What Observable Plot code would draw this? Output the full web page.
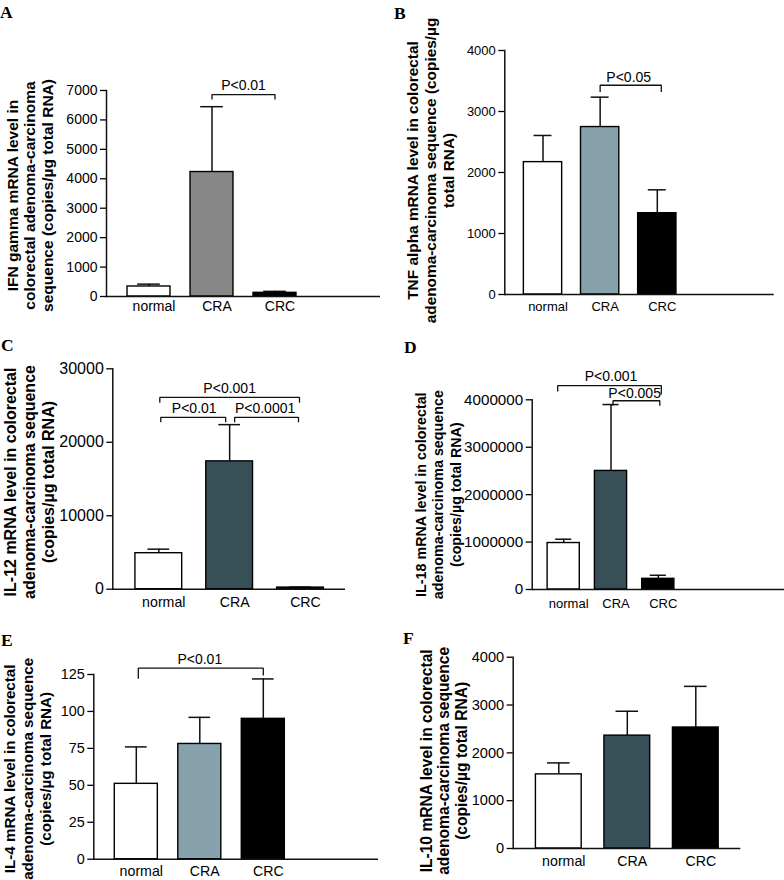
<!DOCTYPE html>
<html>
<head>
<meta charset="utf-8">
<script src="https://cdn.jsdelivr.net/npm/d3@7"></script>
<script src="https://cdn.jsdelivr.net/npm/@observablehq/plot@0.6"></script>
<style>
html,body{margin:0;padding:0;background:#fff;}
#fig{position:relative;width:784px;height:880px;background:#fff;overflow:hidden;}
.panel{position:absolute;}
.letter{position:absolute;font-family:"Liberation Serif","Times New Roman",serif;font-weight:bold;font-size:17.5px;line-height:1;color:#000;}
</style>
</head>
<body>
<div id="fig"></div>
<script>
// ---------- data ----------
const categories = ["normal", "CRA", "CRC"];

// A: IFN gamma
const ifnMean = [340, 4230, 125];
const ifnUpper = [420, 6450, 175];
const ifnTicks = [0, 1000, 2000, 3000, 4000, 5000, 6000, 7000];
const ifnBrackets = [["CRA", "CRC", 6860, "P<0.01"]];
const ifnLabel = "IFN gamma mRNA level in\ncolorectal adenoma-carcinoma\nsequence (copies/µg total RNA)";

// B: TNF alpha
const tnfMean = [2170, 2745, 1333];
const tnfUpper = [2607, 3235, 1716];
const tnfTicks = [0, 1000, 2000, 3000, 4000];
const tnfBrackets = [["CRA", "CRC", 3430, "P<0.05"]];
const tnfLabel = "TNF alpha mRNA level in colorectal\nadenoma-carcinoma sequence (copies/µg\ntotal RNA)";

// C: IL-12
const il12Mean = [4900, 17400, 220];
const il12Upper = [5450, 22400, 280];
const il12Ticks = [0, 10000, 20000, 30000];
const il12Brackets = [
  ["normal", "CRC", 26100, "P<0.001"],
  ["normal", "CRA", 23400, "P<0.01"],
  ["CRA", "CRC", 23400, "P<0.0001"]
];
const il12Label = "IL-12 mRNA level in colorectal\nadenoma-carcinoma sequence\n(copies/µg total RNA)";

// D: IL-18
const il18Mean = [980000, 2500000, 225000];
const il18Upper = [1060000, 3900000, 300000];
const il18Ticks = [0, 1000000, 2000000, 3000000, 4000000];
const il18Brackets = [
  ["normal", "CRC", 4300000, "P<0.001"],
  ["CRA", "CRC", 3980000, "P<0.005"]
];
const il18Label = "IL-18 mRNA level in colorectal\nadenoma-carcinoma sequence\n(copies/µg total RNA)";

// E: IL-4
const il4Mean = [51, 78, 95];
const il4Upper = [76, 96, 122];
const il4Ticks = [0, 25, 50, 75, 100, 125];
const il4Brackets = [["normal", "CRC", 129.3, "P<0.01"]];
const il4Label = "IL-4 mRNA level in colorectal\nadenoma-carcinoma sequence\n(copies/µg total RNA)";

// F: IL-10
const il10Mean = [1550, 2360, 2530];
const il10Upper = [1790, 2870, 3390];
const il10Ticks = [0, 1000, 2000, 3000, 4000];
const il10Brackets = [];
const il10Label = "IL-10 mRNA level in colorectal\nadenoma-carcinoma sequence\n(copies/µg total RNA)";

// ---------- styles / layout ----------
const GRAY = "#878787", STEEL = "#87a2ac", SLATE = "#374f57";
const specs = [
  {letter: "A", pos: [0, 0, 392, 320], margin: [90, 12, 24, 106], xRange: [148.5, 274.5], hw: 0.341, cap: 0.18,
   mean: ifnMean, upper: ifnUpper, ticks: ifnTicks, brackets: ifnBrackets, label: ifnLabel, cra: GRAY,
   yFont: 14, xFont: 14, xPad: 4.8, labelFont: 15.5, labelLH: 1.13, labelDx: -76.7, labelDy: 2,
   bStyle: [{dl: 5, dr: 5, il: 0, ir: 0, gap: 4.7}], letterAt: [0, 3.6]},
  {letter: "B", pos: [392, 0, 392, 320], margin: [50, 10.3, 26, 112.3], xRange: [150.5, 264.8], hw: 0.335, cap: 0.157,
   mean: tnfMean, upper: tnfUpper, ticks: tnfTicks, brackets: tnfBrackets, label: tnfLabel, cra: STEEL,
   yFont: 13, xFont: 13, xPad: 6.8, labelFont: 15.4, labelLH: 1.17, labelDx: -74.3, labelDy: -2,
   bStyle: [{dl: 6.7, dr: 6.7, il: 0, ir: -4, gap: 3.3}], letterAt: [394, 5]},
  {letter: "C", pos: [0, 320, 392, 290], margin: [48.3, 47, 21.3, 112.3], xRange: [158.3, 300], hw: 0.33, cap: 0.153,
   mean: il12Mean, upper: il12Upper, ticks: il12Ticks, brackets: il12Brackets, label: il12Label, cra: SLATE,
   yFont: 16, xFont: 14.2, xPad: 7.9, labelFont: 16, labelLH: 1.17, labelDx: -83.8, labelDy: 3,
   bStyle: [{dl: 5.4, dr: 5.4, il: 1, ir: 1, gap: 4.6}, {dl: 5, dr: 5, il: 2, ir: 4, gap: 4.3}, {dl: 5, dr: 5, il: 5, ir: 2, gap: 4.3}],
   letterAt: [1, 337]},
  {letter: "D", pos: [392, 320, 392, 290], margin: [79.3, 0, 21, 139.7], xRange: [171.2, 265.8], hw: 0.34, cap: 0.17,
   mean: il18Mean, upper: il18Upper, ticks: il18Ticks, brackets: il18Brackets, label: il18Label, cra: SLATE,
   yFont: 15.2, xFont: 13, xPad: 8.8, labelFont: 14.3, labelLH: 1.22, labelDx: -94.7, labelDy: 0,
   bStyle: [{dl: 6, dr: 9, il: -6, ir: -3, gap: 4.3}, {dl: 5, dr: 5, il: 2, ir: -1.5, gap: 2.5}],
   letterAt: [404, 338.6]},
  {letter: "E", pos: [0, 610, 392, 270], margin: [64, 14, 21.3, 93.3], xRange: [135.8, 262.8], hw: 0.339, cap: 0.171,
   mean: il4Mean, upper: il4Upper, ticks: il4Ticks, brackets: il4Brackets, label: il4Label, cra: STEEL,
   yFont: 14.4, xFont: 14.2, xPad: 6.3, labelFont: 15.2, labelLH: 1.2, labelDx: -66.6, labelDy: 2,
   bStyle: [{dl: 10.5, dr: 7.3, il: 2, ir: 0, gap: 4.4}], letterAt: [1, 632]},
  {letter: "F", pos: [392, 610, 392, 270], margin: [46.7, 43.7, 32, 120.7], xRange: [166.3, 303.3], hw: 0.334, cap: 0.165,
   mean: il10Mean, upper: il10Upper, ticks: il10Ticks, brackets: il10Brackets, label: il10Label, cra: SLATE,
   yFont: 14.6, xFont: 14.2, xPad: 7, labelFont: 15.6, labelLH: 1.12, labelDx: -69.7, labelDy: 8,
   bStyle: [], letterAt: [403, 630]}
];

function bracketCurve(dropL, dropR, insetL, insetR) {
  return function (context) {
    let pts = [];
    return {
      areaStart() {}, areaEnd() {},
      lineStart() { pts = []; },
      point(x, y) { pts.push([+x, +y]); },
      lineEnd() {
        if (pts.length < 2) return;
        const [x0, y0] = pts[0], [x1, y1] = pts[pts.length - 1];
        const a = x0 + insetL, b = x1 - insetR;
        context.moveTo(a, y0 + dropL);
        context.lineTo(a, y0);
        context.lineTo(b, y1);
        context.lineTo(b, y1 + dropR);
      }
    };
  };
}

const idx = (c) => categories.indexOf(c);
const fig = document.getElementById("fig");
const INK = "#111";

for (const s of specs) {
  const [left, top, width, height] = s.pos;
  const [mt, mr, mb, ml] = s.margin;
  const rows = categories.map((cat, i) => ({i, cat, mean: s.mean[i], upper: s.upper[i]}));

  const bracketMarks = [];
  s.brackets.forEach((b, j) => {
    const st = s.bStyle[j];
    bracketMarks.push(
      Plot.link([b], {x1: (d) => idx(d[0]), x2: (d) => idx(d[1]), y1: (d) => d[2], y2: (d) => d[2],
        curve: bracketCurve(st.dl, st.dr, st.il, st.ir), stroke: INK, strokeWidth: 1.3}),
      Plot.text([b], {x: (d) => (idx(d[0]) + idx(d[1])) / 2, y: (d) => d[2], text: (d) => d[3],
        dy: -st.gap, lineAnchor: "bottom", textAnchor: "middle", fontSize: 14, fill: "#000"})
    );
  });

  const chart = Plot.plot({
    width, height,
    marginTop: mt, marginRight: mr, marginBottom: mb, marginLeft: ml,
    x: {type: "linear", domain: [0, 2], range: s.xRange},
    y: {domain: [0, s.ticks[s.ticks.length - 1]]},
    color: {domain: categories, range: ["#ffffff", s.cra, "#000000"]},
    style: {fontFamily: "'Liberation Sans', Arial, Helvetica, sans-serif", fontSize: "14px", color: "#000", background: "transparent", overflow: "visible"},
    marks: [
      Plot.ruleX(rows, {x: "i", y1: "mean", y2: "upper", stroke: INK, strokeWidth: 1.5}),
      Plot.ruleY(rows, {y: "upper", x1: (d) => d.i - s.cap, x2: (d) => d.i + s.cap, stroke: INK, strokeWidth: 1.5}),
      Plot.rectY(rows, {x1: (d) => d.i - s.hw, x2: (d) => d.i + s.hw, y1: () => 0, y2: "mean", fill: "cat", stroke: "#000", strokeWidth: 1.4}),
      Plot.frame({anchor: "left", stroke: INK, strokeWidth: 1.5}),
      Plot.ruleY([0], {stroke: INK, strokeWidth: 1.5}),
      Plot.axisY({ticks: s.ticks, tickFormat: (d) => String(d), tickSize: 6, tickPadding: 3, fontSize: s.yFont, strokeWidth: 1.3, label: null}),
      Plot.axisX({ticks: [0, 1, 2], tickFormat: (i) => categories[i], tickSize: 0, tickPadding: s.xPad, fontSize: s.xFont, dx: 5, label: null}),
      Plot.text([s.label], {frameAnchor: "left", text: (d) => d, rotate: -90, dx: s.labelDx, dy: s.labelDy,
        fontSize: s.labelFont, fontWeight: "bold", lineHeight: s.labelLH, textAnchor: "middle", lineAnchor: "middle", fill: "#000"}),
      ...bracketMarks
    ]
  });

  const holder = document.createElement("div");
  holder.className = "panel";
  holder.style.left = left + "px";
  holder.style.top = top + "px";
  holder.style.width = width + "px";
  holder.style.height = height + "px";
  holder.appendChild(chart);
  fig.appendChild(holder);

  const letter = document.createElement("div");
  letter.className = "letter";
  letter.textContent = s.letter;
  letter.style.left = s.letterAt[0] + "px";
  letter.style.top = s.letterAt[1] + "px";
  fig.appendChild(letter);
}
</script>
</body>
</html>
